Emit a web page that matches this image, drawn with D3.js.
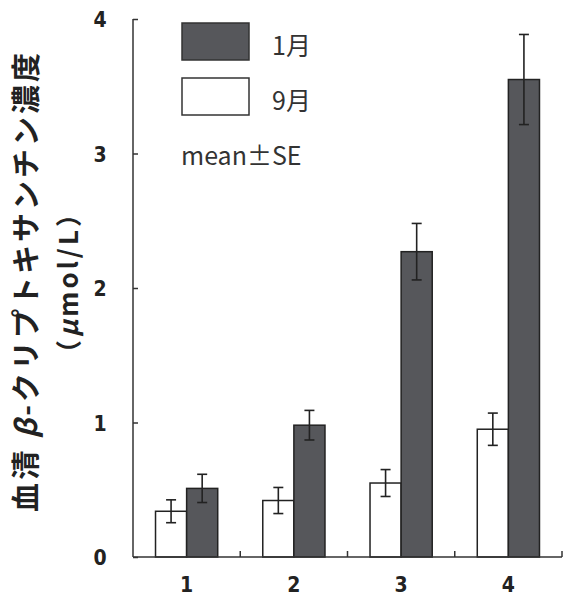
<!DOCTYPE html>
<html>
<head>
<meta charset="utf-8">
<script src="https://cdn.jsdelivr.net/npm/d3@7"></script>
<style>
  body { margin: 0; background: #fff; }
</style>
</head>
<body>
<div id="chart"></div>
<script>
// values
var groups = ["1", "2", "3", "4"];
var seriesNames = ["9月", "1月"];
var sepMean = [0.34, 0.42, 0.55, 0.95];   // 9月
var sepSE = [0.085, 0.097, 0.10, 0.12];
var janMean = [0.51, 0.98, 2.27, 3.55];   // 1月
var janSE = [0.105, 0.11, 0.21, 0.335];
var yTicks = [0, 1, 2, 3, 4];

var W = 567, H = 597;
var margin = {top: 19, right: 5, bottom: 40, left: 133};
var width = W - margin.left - margin.right,
    height = H - margin.top - margin.bottom;

var numFont = "'Liberation Sans Narrow', 'DejaVu Sans Condensed', 'Liberation Sans', sans-serif";
var jpFont = "'Noto Sans CJK JP', sans-serif";

var svg = d3.select("#chart").append("svg")
    .attr("width", W)
    .attr("height", H);

var g = svg.append("g")
    .attr("transform", "translate(" + margin.left + "," + margin.top + ")");

var x = d3.scaleBand().domain(groups).range([0, width]).padding(0);
var y = d3.scaleLinear().domain([0, 4]).range([height, 0]);
var barW = x.bandwidth() * 0.29;

var dark = "#56575b", lineCol = "#222";

// bars: 9月 (white) on left, 1月 (dark) on right
var series = [
    {name: seriesNames[0], mean: sepMean, se: sepSE, fill: "#fff", off: -barW},
    {name: seriesNames[1], mean: janMean, se: janSE, fill: dark, off: 0}
];

series.forEach(function(s) {
    var rows = groups.map(function(gr, i) { return {g: gr, m: s.mean[i], e: s.se[i]}; });
    var cx = function(d) { return x(d.g) + x.bandwidth() / 2 + s.off; };

    g.append("g").selectAll("rect").data(rows).enter()
	.append("rect")
	.attr("x", cx)
	.attr("y", function(d) { return y(d.m); })
	.attr("width", barW)
	.attr("height", function(d) { return y(0) - y(d.m); })
	.style("fill", s.fill)
	.style("stroke", lineCol)
	.style("stroke-width", 1.5);

    var eb = g.append("g").selectAll("g").data(rows).enter().append("g")
	.style("stroke", lineCol)
	.style("stroke-width", 1.6);
    eb.append("line")
	.attr("x1", function(d) { return cx(d) + barW / 2; })
	.attr("x2", function(d) { return cx(d) + barW / 2; })
	.attr("y1", function(d) { return y(d.m + d.e); })
	.attr("y2", function(d) { return y(d.m - d.e); });
    [1, -1].forEach(function(sign) {
	eb.append("line")
	    .attr("x1", function(d) { return cx(d) + barW / 2 - 5; })
	    .attr("x2", function(d) { return cx(d) + barW / 2 + 5; })
	    .attr("y1", function(d) { return y(d.m + sign * d.e); })
	    .attr("y2", function(d) { return y(d.m + sign * d.e); });
    });
});

// y axis, ticks pointing inward
var yAxis = g.append("g")
    .call(d3.axisRight(y).tickValues(yTicks).tickSize(5).tickFormat(d3.format("d")));
yAxis.select(".domain").remove();
yAxis.selectAll("line").style("stroke", "#333").style("stroke-width", 1.5);
yAxis.selectAll("text")
    .attr("x", -33)
    .attr("dy", "0.36em")
    .style("text-anchor", "middle")
    .style("font-family", numFont)
    .style("font-weight", "bold")
    .style("font-size", "21px")
    .style("fill", "#222");

g.append("line")
    .attr("x1", 0).attr("x2", 0)
    .attr("y1", y(4)).attr("y2", y(0))
    .style("stroke", "#333").style("stroke-width", 1.5);
g.append("line")
    .attr("x1", 0).attr("x2", width)
    .attr("y1", y(0)).attr("y2", y(0))
    .style("stroke", "#333").style("stroke-width", 1.5);

// category separators on x axis, pointing up
g.append("g").selectAll("line").data(groups.slice(1).concat(["end"])).enter()
    .append("line")
    .attr("x1", function(d) { return d === "end" ? width : x(d); })
    .attr("x2", function(d) { return d === "end" ? width : x(d); })
    .attr("y1", y(0))
    .attr("y2", y(0) - 6)
    .style("stroke", "#333").style("stroke-width", 1.5);

g.append("g").selectAll("text").data(groups).enter()
    .append("text")
    .attr("x", function(d) { return x(d) + x.bandwidth() / 2; })
    .attr("y", height + 35)
    .style("text-anchor", "middle")
    .style("font-family", numFont)
    .style("font-weight", "bold")
    .style("font-size", "21px")
    .style("fill", "#222")
    .text(function(d) { return d; });

// y title
svg.append("text")
    .attr("transform", "translate(24,281) rotate(-90)")
    .attr("dominant-baseline", "central")
    .style("text-anchor", "middle")
    .style("font-family", jpFont)
    .style("font-weight", "bold")
    .style("font-size", "29px")
    .style("letter-spacing", "3px")
    .style("fill", "#222")
    .html("血清 <tspan font-style='italic'>β</tspan>-クリプトキサンチン濃度");

svg.append("text")
    .attr("transform", "translate(66,282) rotate(-90)")
    .attr("dominant-baseline", "central")
    .style("text-anchor", "middle")
    .style("font-family", jpFont)
    .style("font-weight", "bold")
    .style("font-size", "26px")
    .style("letter-spacing", "3px")
    .style("fill", "#222")
    .html("（<tspan font-style='italic'>μ</tspan>mol/L）");

// legend
var legend = [
    {label: seriesNames[1], fill: dark, y: 23},
    {label: seriesNames[0], fill: "#fff", y: 78}
];
var lg = svg.append("g").selectAll("g").data(legend).enter().append("g");
lg.append("rect")
    .attr("x", 182).attr("y", function(d) { return d.y; })
    .attr("width", 67).attr("height", 37)
    .style("fill", function(d) { return d.fill; })
    .style("stroke", "#333").style("stroke-width", 1.5);
lg.append("text")
    .attr("x", 272).attr("y", function(d) { return d.y + 32; })
    .style("font-family", jpFont)
    .style("font-size", "25px")
    .style("fill", "#333")
    .text(function(d) { return d.label; });

svg.append("text")
    .attr("x", 181).attr("y", 165)
    .style("font-family", jpFont)
    .style("font-size", "25px")
    .style("fill", "#333")
    .text("mean±SE");
</script>
</body>
</html>
